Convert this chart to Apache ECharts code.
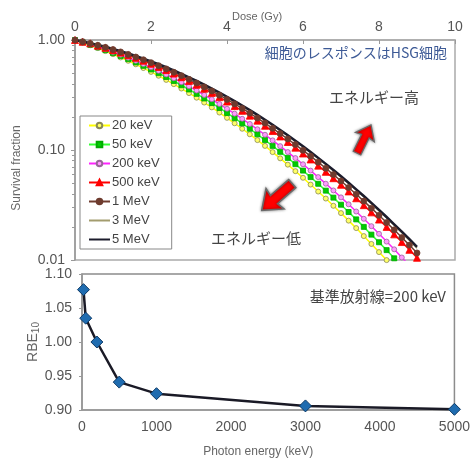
<!DOCTYPE html>
<html>
<head>
<meta charset="utf-8">
<script src="https://cdn.jsdelivr.net/npm/echarts@6/dist/echarts.min.js"></script>
<style>
  html, body { margin: 0; padding: 0; background: #fff; }
  #chart { width: 473px; height: 459px; }
</style>
</head>
<body>
<div id="chart"></div>
<script>
// dose points of the survival curves (Gy)
const dose = [0, 0.2, 0.4, 0.6, 0.8, 1, 1.2, 1.4, 1.6, 1.8, 2, 2.2, 2.4, 2.6, 2.8, 3, 3.2, 3.4, 3.6, 3.8,
  4, 4.2, 4.4, 4.6, 4.8, 5, 5.2, 5.4, 5.6, 5.8, 6, 6.2, 6.4, 6.6, 6.8, 7, 7.2, 7.4, 7.6, 7.8,
  8, 8.2, 8.4, 8.6, 8.8, 9];

// survival fraction
const sf20keV = [1, 0.948, 0.896, 0.845, 0.793, 0.743, 0.694, 0.647, 0.601, 0.556, 0.513, 0.473, 0.434, 0.397, 0.362,
  0.329, 0.299, 0.270, 0.244, 0.219, 0.196, 0.175, 0.156, 0.139, 0.123, 0.109, 0.0957, 0.0840, 0.0736, 0.0642,
  0.0559, 0.0485, 0.0419, 0.0362, 0.0311, 0.0267, 0.0228, 0.0195, 0.0165, 0.0140, 0.0118, 0.00998, 0.00838];
const sf50keV = [1, 0.953, 0.905, 0.857, 0.809, 0.762, 0.716, 0.670, 0.625, 0.582, 0.540, 0.499, 0.461, 0.424, 0.388,
  0.355, 0.324, 0.294, 0.267, 0.241, 0.217, 0.195, 0.1745, 0.156, 0.1388, 0.1232, 0.109, 0.0962, 0.0847, 0.0743,
  0.0650, 0.0567, 0.0493, 0.0427, 0.0369, 0.0318, 0.0273, 0.0234, 0.0200, 0.0170, 0.0145, 0.0123, 0.01036, 0.00872];
const sf200keV = [1, 0.957, 0.913, 0.869, 0.824, 0.779, 0.735, 0.691, 0.648, 0.605, 0.564, 0.524, 0.486, 0.449, 0.413,
  0.379, 0.347, 0.317, 0.289, 0.262, 0.237, 0.214, 0.192, 0.1725, 0.1543, 0.1376, 0.1223, 0.1084, 0.0958, 0.0844,
  0.0742, 0.0650, 0.0567, 0.0494, 0.0429, 0.0371, 0.0321, 0.0276, 0.0237, 0.0203, 0.0173, 0.0147, 0.0125, 0.01054, 0.00889];
const sf500keV = [1, 0.964, 0.933, 0.888, 0.849, 0.809, 0.769, 0.728, 0.688, 0.648, 0.608, 0.569, 0.532, 0.495, 0.459,
  0.425, 0.392, 0.360, 0.330, 0.302, 0.2754, 0.2504, 0.2269, 0.2051, 0.1848, 0.166, 0.1487, 0.1327, 0.1182, 0.105,
  0.0929, 0.082, 0.0721, 0.0633, 0.0554, 0.0483, 0.042, 0.0364, 0.0315, 0.0271, 0.0233, 0.02, 0.0171, 0.01456, 0.01237, 0.01047];
const sf1MeV = [1, 0.966, 0.931, 0.895, 0.857, 0.818, 0.779, 0.740, 0.700, 0.661, 0.622, 0.584, 0.546, 0.509, 0.474,
  0.439, 0.406, 0.374, 0.344, 0.315, 0.288, 0.2625, 0.2385, 0.216, 0.195, 0.1756, 0.1576, 0.1411, 0.1259, 0.1121,
  0.0994, 0.0879, 0.0775, 0.0682, 0.0598, 0.0523, 0.0456, 0.0396, 0.0343, 0.0296, 0.0255, 0.0219, 0.0188, 0.016, 0.01366, 0.01159];
const sf3MeV = [1, 0.969, 0.935, 0.900, 0.864, 0.827, 0.790, 0.751, 0.713, 0.674, 0.636, 0.598, 0.561, 0.524, 0.489,
  0.454, 0.421, 0.389, 0.358, 0.329, 0.301, 0.275, 0.2503, 0.2273, 0.2057, 0.1856, 0.1669, 0.1498, 0.134, 0.1195,
  0.1062, 0.0942, 0.0832, 0.0734, 0.0645, 0.0565, 0.0493, 0.043, 0.0373, 0.0323, 0.0279, 0.024, 0.0206, 0.01764, 0.01505, 0.0128];
const sf5MeV = [1, 0.969, 0.936, 0.902, 0.867, 0.830, 0.792, 0.754, 0.716, 0.678, 0.640, 0.602, 0.565, 0.528, 0.493,
  0.458, 0.425, 0.393, 0.362, 0.333, 0.305, 0.2785, 0.2537, 0.2304, 0.2086, 0.1884, 0.1696, 0.1522, 0.1362, 0.1216,
  0.1081, 0.0959, 0.0848, 0.0748, 0.0658, 0.0577, 0.0504, 0.0439, 0.0382, 0.0331, 0.0286, 0.0246, 0.0211, 0.0181, 0.01545, 0.01315];

// lower panel: RBE10 vs photon energy
const energy = [20, 50, 200, 500, 1000, 3000, 5000];
const rbe10 = [1.077, 1.035, 1.0, 0.941, 0.924, 0.906, 0.901];

const font = '"Liberation Sans", Arial, sans-serif';
const jp = '"Noto Sans CJK JP", sans-serif';
const clear = 'rgba(0,0,0,0)';

function pairs(ys) {
  return ys.map((y, i) => [dose[i], y]);
}

const curves = [
  { name: '20 keV', data: sf20keV, color: '#ffff00', symbol: 'circle', size: 5, fill: '#ffff66', border: '#8a8a55' },
  { name: '50 keV', data: sf50keV, color: '#33ff33', symbol: 'rect', size: 5, fill: '#00cc00', border: '#00aa00' },
  { name: '200 keV', data: sf200keV, color: '#ff22ff', symbol: 'circle', size: 5, fill: '#ff99ff', border: '#996699' },
  { name: '500 keV', data: sf500keV, color: '#ff0000', symbol: 'triangle', size: 7, fill: '#ff0000', border: '#ff0000' },
  { name: '1 MeV', data: sf1MeV, color: '#6e3b2e', symbol: 'circle', size: 6, fill: '#6e3b2e', border: '#6e3b2e' },
  { name: '3 MeV', data: sf3MeV, color: '#a39c6e', symbol: 'none', size: 0, width: 1.2, fill: clear, border: clear },
  { name: '5 MeV', data: sf5MeV, color: '#1c1c2c', symbol: 'none', size: 0, width: 2.5, fill: clear, border: clear }
];

const series = curves.map(c => ({
  name: c.name,
  type: 'line',
  xAxisIndex: 0,
  yAxisIndex: 0,
  data: pairs(c.data),
  symbol: c.symbol,
  symbolSize: c.size,
  showSymbol: c.symbol !== 'none',
  clip: true,
  lineStyle: { color: c.color, width: c.width || 1.5 },
  itemStyle: { color: c.fill, borderColor: c.border, borderWidth: 0.8 }
}));

series.push({
  name: 'RBE',
  type: 'line',
  xAxisIndex: 1,
  yAxisIndex: 1,
  data: energy.map((e, i) => [e, rbe10[i]]),
  symbol: 'diamond',
  symbolSize: 12,
  lineStyle: { color: '#1a1a26', width: 2.5 },
  itemStyle: { color: '#1f6cb0', borderColor: '#0e3a66', borderWidth: 1 }
});

function arrow(x, y, rot, scale) {
  return {
    type: 'polygon',
    x: x, y: y, rotation: rot, scaleX: scale, scaleY: scale,
    shape: { points: [[0, -15], [10, -2], [4, -3], [4, 15], [-4, 15], [-4, -3], [-10, -2]] },
    style: { fill: '#ff0000', stroke: '#6a6a6a', lineWidth: 1.2, shadowBlur: 3, shadowColor: 'rgba(0,0,0,0.45)' },
    z: 10
  };
}

const chart = echarts.init(document.getElementById('chart'));
chart.setOption({
  animation: false,
  backgroundColor: '#fff',
  grid: [
    { left: 75, top: 40, width: 380, height: 220, show: true, borderColor: '#aaa', borderWidth: 1.5 },
    { left: 82, top: 274, width: 376, height: 140, show: true, borderColor: '#8c8c8c', borderWidth: 1.5 }
  ],
  legend: {
    data: curves.map(c => c.name),
    orient: 'vertical',
    left: 80,
    top: 116,
    padding: [3, 12, 3, 8],
    itemWidth: 21,
    itemHeight: 7,
    itemGap: 6,
    backgroundColor: '#fff',
    borderColor: '#888',
    borderWidth: 1,
    textStyle: { fontFamily: font, fontSize: 13, color: '#444', padding: [0, 0, 0, -3] }
  },
  xAxis: [
    {
      type: 'value', gridIndex: 0, position: 'top', min: 0, max: 10, interval: 2,
      name: 'Dose (Gy)', nameLocation: 'middle', nameGap: 18, nameMoveOverlap: false,
      nameTextStyle: { fontFamily: font, fontSize: 11, color: '#666', padding: [0, 16, 0, 0] },
      axisLine: { lineStyle: { color: '#aaa', width: 1.5 } },
      axisTick: { inside: true, length: 4, lineStyle: { color: '#999' } },
      axisLabel: { fontFamily: font, fontSize: 14, color: '#555', margin: 6 },
      splitLine: { show: false }
    },
    {
      type: 'value', gridIndex: 1, min: 0, max: 5000, interval: 1000,
      name: 'Photon energy (keV)', nameLocation: 'middle', nameGap: 36, nameMoveOverlap: false,
      nameTextStyle: { fontFamily: font, fontSize: 12, color: '#666', padding: [0, 20, 0, 0] },
      axisLine: { lineStyle: { color: '#999', width: 1.5 } },
      axisTick: { show: false },
      axisLabel: { fontFamily: font, fontSize: 14, color: '#555', margin: 10, formatter: v => String(v) },
      splitLine: { show: false }
    }
  ],
  yAxis: [
    {
      type: 'log', gridIndex: 0, logBase: 10, min: 0.01, max: 1,
      name: 'Survival fraction', nameLocation: 'middle', nameGap: 52, nameMoveOverlap: false,
      nameTextStyle: { fontFamily: font, fontSize: 12, color: '#666', padding: [0, 36, 0, 0] },
      axisLine: { show: true, lineStyle: { color: '#999', width: 1.5 } },
      axisTick: { show: true, length: 4, lineStyle: { color: '#999' } },
      minorTick: { show: true, splitNumber: 9, length: 3, lineStyle: { color: '#999' } },
      axisLabel: { fontFamily: font, fontSize: 14, color: '#555', margin: 10, formatter: v => v.toFixed(2) },
      splitLine: { show: false }
    },
    {
      type: 'value', gridIndex: 1, min: 0.9, max: 1.1, interval: 0.05,
      name: 'RBE{s|10}', nameLocation: 'middle', nameGap: 41, nameMoveOverlap: false,
      nameTextStyle: {
        fontFamily: font, fontSize: 14, color: '#666',
        rich: { s: { fontFamily: font, fontSize: 10, color: '#666', verticalAlign: 'bottom', padding: [5, 0, 0, 0] } }
      },
      axisLine: { show: true, lineStyle: { color: '#999', width: 1.5 } },
      axisTick: { show: true, length: 3, lineStyle: { color: '#999' } },
      axisLabel: { fontFamily: font, fontSize: 14, color: '#555', margin: 10, formatter: v => v.toFixed(2) },
      splitLine: { show: false }
    }
  ],
  graphic: [
    { type: 'text', x: 447, y: 53, z: 10, style: { text: '細胞のレスポンスはHSG細胞', fill: '#3d5a96', font: '14px ' + jp, align: 'right', verticalAlign: 'middle' } },
    { type: 'text', x: 374, y: 97, z: 10, style: { text: 'エネルギー高', fill: '#444', font: '15px ' + jp, align: 'center', verticalAlign: 'middle' } },
    { type: 'text', x: 256, y: 238, z: 10, style: { text: 'エネルギー低', fill: '#444', font: '15px ' + jp, align: 'center', verticalAlign: 'middle' } },
    { type: 'text', x: 446, y: 296, z: 10, style: { text: '基準放射線=200 keV', fill: '#444', font: '15px ' + jp, align: 'right', verticalAlign: 'middle' } },
    arrow(364, 139, -0.46, 1.05),
    arrow(277, 197, 2.29, 1.35)
  ],
  series: series
});
</script>
</body>
</html>
